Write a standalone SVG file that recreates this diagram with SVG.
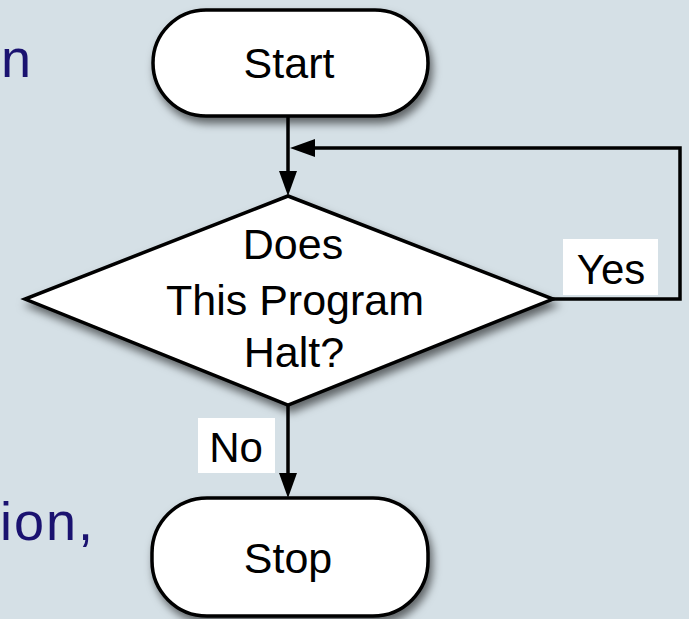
<svg xmlns="http://www.w3.org/2000/svg" width="689" height="619" viewBox="0 0 689 619">
  <style>
    .shape { fill: #ffffff; stroke: #000000; stroke-width: 3.5; filter: url(#shadow); }
    .label { font-family: "Liberation Sans", Arial, sans-serif; font-size: 43px; fill: #000000; text-anchor: middle; }
    .tag { fill: #ffffff; }
    .line { fill: none; stroke: #000000; stroke-width: 3.5; }
    .head { fill: #000000; }
    .body { font-family: "Liberation Sans", Arial, sans-serif; font-size: 54px; fill: #1a1270; letter-spacing: 2px; }
  </style>
  <defs>
    <filter id="shadow" x="-20%" y="-20%" width="140%" height="150%">
      <feDropShadow dx="3" dy="6" stdDeviation="4" flood-color="#000000" flood-opacity="0.55"/>
    </filter>
  </defs>

  <!-- slide background -->
  <rect x="0" y="0" width="689" height="619" fill="#d5e0e6"/>

  <!-- fragments of body text behind the flowchart -->
  <text class="body" x="1" y="77">n</text>
  <text class="body" x="0" y="540">ion,</text>

  <!-- connectors -->
  <g id="connectors">
    <line class="line" x1="288" y1="116" x2="288" y2="176"/>
    <polygon class="head" points="279,171 297,171 288,196"/>
    <polyline class="line" points="553,299 680,299 680,148 310,148"/>
    <polygon class="head" points="315,139 315,157 290,148"/>
    <line class="line" x1="288" y1="405" x2="288" y2="478"/>
    <polygon class="head" points="279,473 297,473 288,498"/>
    <g id="label-yes">
      <rect class="tag" x="563" y="239" width="95" height="56"/>
      <text class="label" x="611" y="284" style="font-size:42px">Yes</text>
    </g>
    <g id="label-no">
      <rect class="tag" x="198" y="418" width="77" height="55"/>
      <text class="label" x="236" y="462" style="font-size:42px">No</text>
    </g>
  </g>

  <g id="start">
    <rect class="shape" x="153" y="10" width="275" height="106" rx="53" ry="53"/>
    <text class="label" x="289" y="78">Start</text>
  </g>

  <g id="decision">
    <polygon class="shape" points="288,196 553,299 288,405 25,299"/>
    <text class="label" x="293" y="259">Does</text>
    <text class="label" x="295" y="315">This Program</text>
    <text class="label" x="294" y="367">Halt?</text>
  </g>

  <g id="stop">
    <rect class="shape" x="152" y="498" width="276" height="118" rx="55" ry="55"/>
    <text class="label" x="288" y="573">Stop</text>
  </g>
</svg>
